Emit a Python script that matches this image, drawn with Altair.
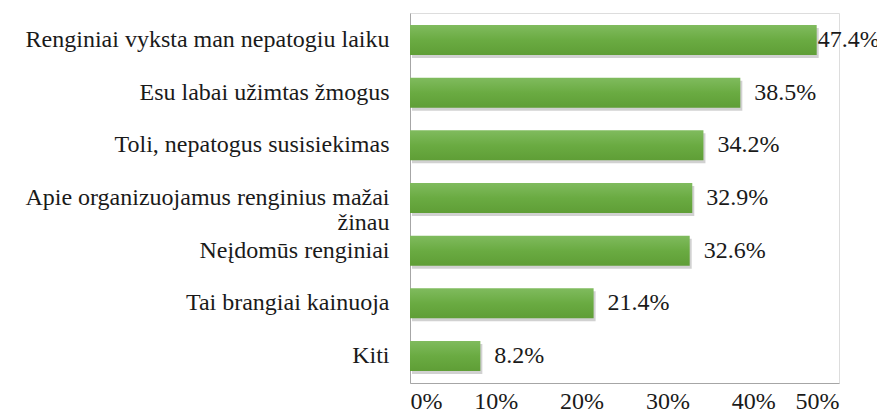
import altair as alt
import pandas as pd

categories = [
    "Renginiai vyksta man nepatogiu laiku",
    "Esu labai užimtas žmogus",
    "Toli, nepatogus susisiekimas",
    "Apie organizuojamus renginius mažai|žinau",
    "Neįdomūs renginiai",
    "Tai brangiai kainuoja",
    "Kiti",
]
values = [47.4, 38.5, 34.2, 32.9, 32.6, 21.4, 8.2]
x_ticks = [0, 10, 20, 30, 40, 50]

df = pd.DataFrame({"cat": categories, "val": values})
df["lab"] = df["val"].map(lambda v: f"{v:.1f}%")

FONT = "Times New Roman"
FS = 24
PAD = "\u00a0" * 27  # centres the wrapped second line under the first

y_enc = alt.Y(
    "cat:N",
    sort=categories,
    scale=alt.Scale(paddingInner=0.43, paddingOuter=0.23),
    axis=alt.Axis(
        title=None,
        ticks=False,
        domainColor="#a6a6a6",
        domainWidth=1,
        labelFont=FONT,
        labelFontSize=FS,
        labelColor="#1a1a1a",
        labelPadding=21,
        labelLimit=600,
        labelAlign="right",
        labelLineHeight=25,
        labelExpr=(
            "indexof(datum.label, '|') >= 0 ? "
            "[split(datum.label, '|')[0], split(datum.label, '|')[1] + '" + PAD + "'] : datum.label"
        ),
    ),
)
x_enc = alt.X(
    "val:Q",
    scale=alt.Scale(domain=[0, 50], nice=False),
    axis=alt.Axis(
        title=None,
        values=x_ticks,
        ticks=False,
        grid=False,
        domainColor="#a6a6a6",
        domainWidth=1,
        labelFont=FONT,
        labelFontSize=FS,
        labelColor="#1a1a1a",
        labelPadding=6,
        labelExpr="datum.value + '%'",
    ),
)

base = alt.Chart(df)

shadow = base.mark_bar(color="#7a7a7a", opacity=0.35, yOffset=3, xOffset=2).encode(y=y_enc, x=x_enc)

bars = base.mark_bar(
    color=alt.Gradient(
        gradient="linear",
        stops=[
            alt.GradientStop(color="#80bb5e", offset=0),
            alt.GradientStop(color="#6aab42", offset=0.5),
            alt.GradientStop(color="#5f9e36", offset=1),
        ],
        x1=0, x2=0, y1=0, y2=1,
    )
).encode(y=y_enc, x=x_enc)

text_top = base.transform_filter("datum.val > 45").mark_text(
    align="left", baseline="middle", dx=1, font=FONT, fontSize=FS, color="#1a1a1a"
).encode(y=y_enc, x=x_enc, text="lab:N")

text_rest = base.transform_filter("datum.val <= 45").mark_text(
    align="left", baseline="middle", dx=14, font=FONT, fontSize=FS, color="#1a1a1a"
).encode(y=y_enc, x=x_enc, text="lab:N")

chart = (
    alt.layer(shadow, bars, text_top, text_rest)
    .properties(
        width=429,
        height=370,
        autosize=alt.AutoSizeParams(type="none"),
        padding={"left": 402, "top": 5, "right": 38, "bottom": 28},
    )
    .configure_view(stroke=None)
    .configure_axis(labelFont=FONT)
    .configure_text(font=FONT)
    .configure(background="white", font=FONT)
)

chart.save("out.html", embed_options={"renderer": "svg", "actions": False})
